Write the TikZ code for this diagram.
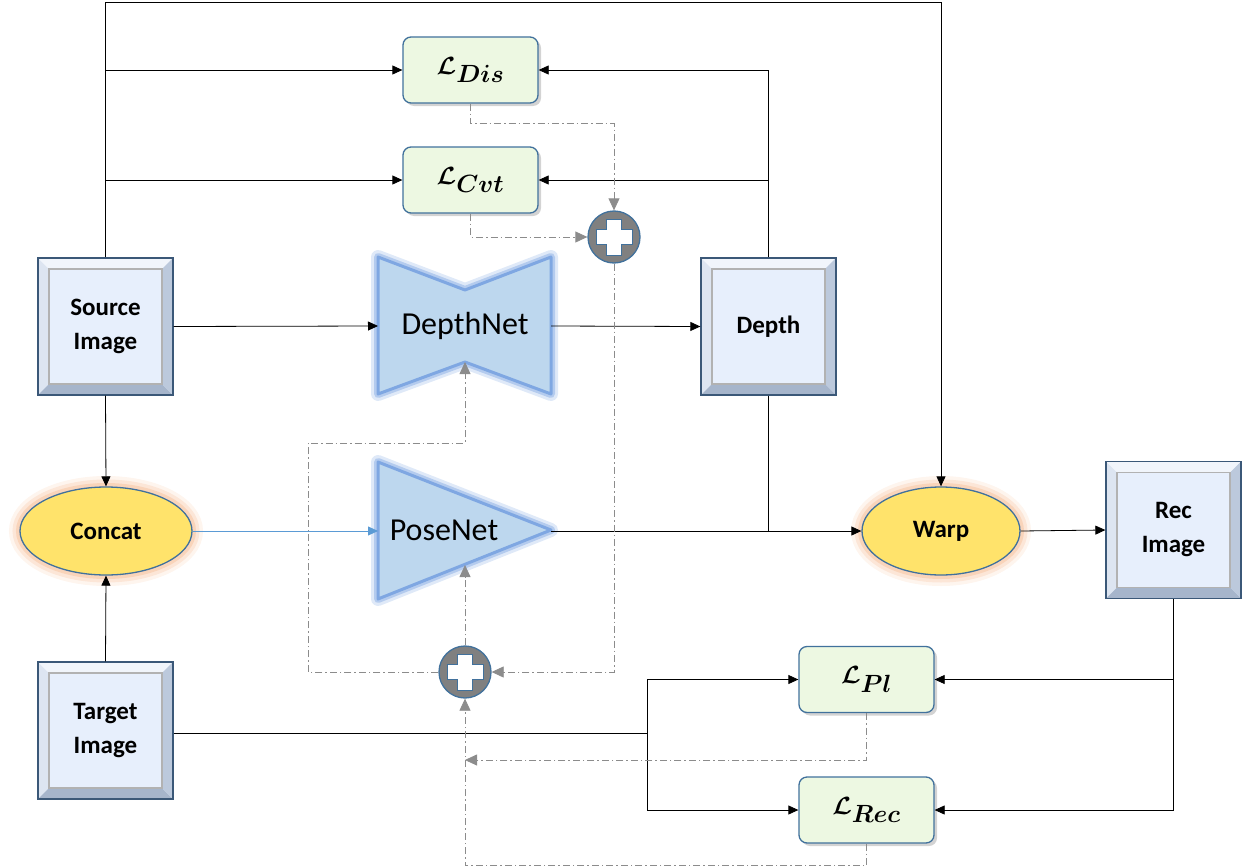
\documentclass[tikz,border=0pt]{standalone}
\usepackage{fontspec}
\setmainfont{Carlito}
\usepackage{amsmath,bm}
\usetikzlibrary{arrows.meta,calc,shapes.geometric,shadows}
\definecolor{boxedge}{HTML}{3B5878}
\definecolor{bevellight}{HTML}{F1F5FB}
\definecolor{bevelmid}{HTML}{DDE5F1}
\definecolor{bevelside}{HTML}{BCC9DC}
\definecolor{beveldark}{HTML}{A6B5CB}
\definecolor{imgfill}{HTML}{E7EFFC}
\definecolor{frame}{HTML}{41719C}
\definecolor{lossfill}{HTML}{EDF8E2}
\definecolor{netfill}{HTML}{BDD7EE}
\definecolor{netedge}{HTML}{7FA7E2}
\definecolor{opfill}{HTML}{FFE36B}
\definecolor{opglow}{HTML}{F6B98F}
\definecolor{lossline}{HTML}{8C8C8C}
\definecolor{feat}{HTML}{5B9BD5}
\newcommand{\lossterm}[1]{$\bm{\mathcal{L}_{#1}}$}

\tikzset{
  imgbox/.style={draw=boxedge, line width=1.3pt, fill=bevelmid,
    minimum width=135pt, minimum height=137pt, align=center,
    font=\fontsize{25}{34}\selectfont\bfseries,
    path picture={
      \coordinate (bnw) at (path picture bounding box.north west);
      \coordinate (bne) at (path picture bounding box.north east);
      \coordinate (bsw) at (path picture bounding box.south west);
      \coordinate (bse) at (path picture bounding box.south east);
      \fill[bevellight] (bnw) -- (bne) -- ([shift={(-11pt,-11pt)}]bne) -- ([shift={(11pt,-11pt)}]bnw) -- cycle;
      \fill[beveldark] (bsw) -- (bse) -- ([shift={(-11pt,11pt)}]bse) -- ([shift={(11pt,11pt)}]bsw) -- cycle;
      \fill[bevelside] (bne) -- (bse) -- ([shift={(-11pt,11pt)}]bse) -- ([shift={(-11pt,-11pt)}]bne) -- cycle;
      \filldraw[fill=imgfill, draw=black!30] ([shift={(11pt,11pt)}]bsw) rectangle ([shift={(-11pt,-11pt)}]bne);
    }},
  lossbox/.style={draw=frame, line width=1.3pt, fill=lossfill, rounded corners=8pt,
    minimum width=135pt, minimum height=66pt, font=\fontsize{34}{38}\selectfont,
    drop shadow={shadow xshift=3pt, shadow yshift=-3pt, opacity=.35}},
  opnode/.style={ellipse, draw=frame, line width=1.3pt, fill=opfill,
    minimum width=#1, minimum height=88pt, font=\fontsize{25}{30}\selectfont\bfseries,
    preaction={draw=opglow, line width=22pt, opacity=.15},
    preaction={draw=opglow, line width=15pt, opacity=.25},
    preaction={draw=opglow, line width=8pt, opacity=.4}},
  sumnode/.style={circle, draw=frame, line width=1.3pt, fill=black!50, minimum size=52pt,
    path picture={
      \draw[frame, fill=white, line width=1pt]
        ([shift={(-7.5pt,18pt)}]path picture bounding box.center) -- ++(15pt,0pt) -- ++(0pt,-10.5pt)
        -- ++(10.5pt,0pt) -- ++(0pt,-15pt) -- ++(-10.5pt,0pt) -- ++(0pt,-10.5pt) -- ++(-15pt,0pt)
        -- ++(0pt,10.5pt) -- ++(-10.5pt,0pt) -- ++(0pt,15pt) -- ++(10.5pt,0pt) -- cycle;
    }},
  netshape/.style={fill=netfill, draw=netedge, line width=3pt, line join=round,
    preaction={draw=netedge, line width=14pt, opacity=.25, line join=round},
    preaction={draw=netedge, line width=8pt, opacity=.45, line join=round}},
  netlbl/.style={font=\fontsize{32}{36}\selectfont},
  conn/.style={draw=black, line width=.8pt, -{Triangle[length=10pt,width=9pt]}},
  featflow/.style={draw=feat, line width=.8pt, -{Triangle[length=10pt,width=9pt]}},
  lossflow/.style={draw=lossline, line width=.8pt, dash pattern=on 7pt off 3pt on 1.5pt off 3pt,
    -{Triangle[length=12pt,width=11pt]}},
}

\begin{document}
\begin{tikzpicture}[x=1pt,y=-1pt]
  \useasboundingbox (0,0) rectangle (1245,867);

  % networks
  \draw[netshape] (378,257) -- (465,290) -- (551,257) -- (551,394) -- (465,362) -- (378,394) -- cycle;
  \draw[netshape] (378,462) -- (551,530) -- (378,599) -- cycle;
  \node[netlbl] (depthnet) at (465,326) {DepthNet};
  \node[netlbl] (posenet) at (444,530) {PoseNet};
  \coordinate (dn-in) at (378,326);
  \coordinate (dn-out) at (551,326);
  \coordinate (dn-low) at (465,362);
  \coordinate (pn-in) at (378,531);
  \coordinate (pn-out) at (551,531);
  \coordinate (pn-low) at (465,565);

  % images
  \node[imgbox] (src) at (105.5,326.5) {Source\\Image};
  \node[imgbox] (tgt) at (105.5,730.5) {Target\\Image};
  \node[imgbox] (depth) at (768.5,326.5) {Depth};
  \node[imgbox] (rec) at (1173.5,530) {Rec\\Image};

  % operations
  \node[opnode=172pt] (concat) at (106,531) {Concat};
  \node[opnode=158pt] (warp) at (941,531) {Warp};
  \node[sumnode] (sumtop) at (614,237) {};
  \node[sumnode] (sumbot) at (465,672) {};

  % losses
  \node[lossbox] (ldis) at (470.5,70) {\lossterm{Dis}};
  \node[lossbox] (lcvt) at (470.5,180) {\lossterm{Cvt}};
  \node[lossbox] (lpl) at (866.5,679.5) {\lossterm{Pl}};
  \node[lossbox] (lrec) at (866.5,810) {\lossterm{Rec}};

  % forward connections
  \draw[conn] (src.north) |- (warp.north |- 0,2) -- (warp.north);
  \draw[conn] (src.north |- ldis.west) -- (ldis.west);
  \draw[conn] (src.north |- lcvt.west) -- (lcvt.west);
  \draw[conn] (src.east) -- (dn-in);
  \draw[conn] (dn-out) -- (depth.west);
  \draw[conn] (depth.north) |- (ldis.east);
  \draw[conn] (depth.north |- lcvt.east) -- (lcvt.east);
  \draw[line width=.8pt] (depth.south) -- (depth.south |- pn-out);
  \draw[conn] (src.south) -- (concat.north);
  \draw[conn] (tgt.north) -- (concat.south);
  \draw[featflow] (concat.east) -- (pn-in);
  \draw[conn] (pn-out) -- (warp.west);
  \draw[conn] (warp.east) -- (rec.west);
  \draw[conn] (rec.south) |- (lrec.east);
  \draw[conn] (rec.south |- lpl.east) -- (lpl.east);
  \coordinate (split) at (647,733);
  \draw[line width=.8pt] (tgt.east |- split) -- (split);
  \draw[conn] (split) |- (lpl.west);
  \draw[conn] (split) |- (lrec.west);

  % loss feedback
  \draw[lossflow] (ldis.south) -- ++(0,20) -| (sumtop.north);
  \draw[lossflow] (lcvt.south) |- (sumtop.west);
  \draw[lossflow] (sumtop.south) |- (sumbot.east);
  \draw[lossflow] (sumbot.west) -| (308,443) -| (dn-low);
  \draw[lossflow] (sumbot.north) -- (pn-low);
  \draw[lossflow] (lpl.south) |- (sumbot.south |- 0,760);
  \draw[lossflow] (lrec.south) -- ++(0,22) -| (sumbot.south);
\end{tikzpicture}
\end{document}
